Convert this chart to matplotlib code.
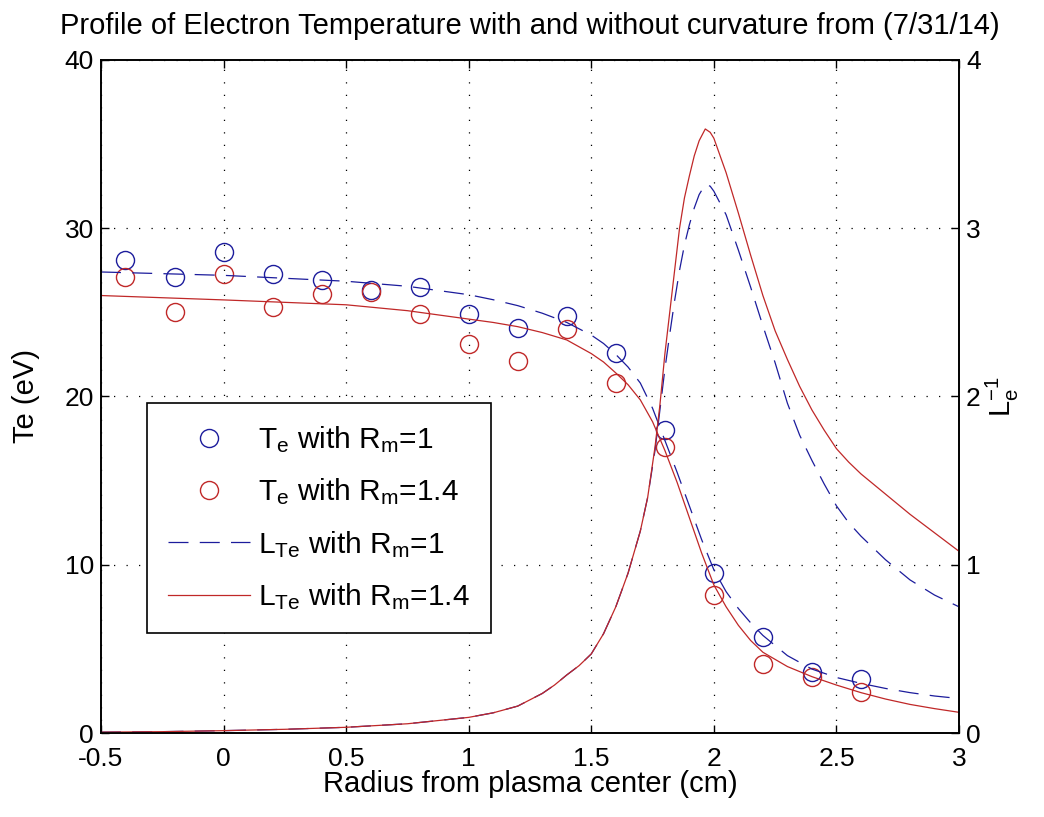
import matplotlib
matplotlib.use("Agg")
import matplotlib.pyplot as plt

plt.rcParams['font.family'] = ['Liberation Sans', 'DejaVu Sans']
plt.rcParams['mathtext.default'] = 'regular'

# measured Te points (eV)
r_pts = [-0.4, -0.2, 0.0, 0.2, 0.4, 0.6, 0.8, 1.0, 1.2, 1.4, 1.6, 1.8, 2.0, 2.2, 2.4, 2.6]
te_rm1 = [28.1, 27.1, 28.6, 27.3, 26.9, 26.3, 26.5, 24.9, 24.1, 24.8, 22.6, 18.0, 9.5, 5.7, 3.6, 3.2]
te_rm14 = [27.1, 25.0, 27.3, 25.3, 26.1, 26.2, 24.9, 23.1, 22.1, 24.0, 20.8, 17.0, 8.2, 4.1, 3.3, 2.45]

# fitted Te profiles (eV)
fit_r = [-0.5, 0.0, 0.5, 0.75, 1.0, 1.1, 1.2, 1.3, 1.4, 1.5, 1.55, 1.6, 1.65, 1.7, 1.75, 1.8,
         1.85, 1.9, 1.95, 2.0, 2.05, 2.1, 2.15, 2.2, 2.3, 2.4, 2.5, 2.6, 2.7, 2.8, 2.9, 3.0]
fit_rm1 = [27.4, 27.2, 26.85, 26.55, 26.05, 25.75, 25.4, 24.95, 24.4, 23.65, 23.15, 22.5, 21.75,
           20.8, 19.3, 17.4, 15.5, 13.5, 11.5, 9.7, 8.4, 7.4, 6.55, 5.8, 4.6, 3.8, 3.3, 2.95,
           2.65, 2.4, 2.2, 2.05]
fit_rm14 = [26.0, 25.74, 25.45, 25.1, 24.6, 24.4, 24.15, 23.8, 23.36, 22.55, 22.05, 21.4, 20.7,
            19.8, 18.5, 16.8, 14.9, 12.8, 10.7, 8.8, 7.5, 6.4, 5.5, 4.8, 3.95, 3.35, 2.85, 2.4,
            2.02, 1.7, 1.45, 1.23]

# inverse gradient scale length L_Te^-1
L_r = [-0.5, -0.25, 0.0, 0.25, 0.5, 0.75, 1.0, 1.1, 1.2, 1.3, 1.35, 1.4, 1.45, 1.5, 1.55, 1.6,
       1.65, 1.7, 1.73, 1.76, 1.78, 1.8, 1.82, 1.84, 1.86, 1.88, 1.9, 1.92, 1.94, 1.965, 1.985,
       2.0, 2.05, 2.1, 2.15, 2.2, 2.25, 2.3, 2.35, 2.4, 2.45, 2.5, 2.55, 2.6, 2.7, 2.8, 2.9, 3.0]
L_rm1 = [0.005, 0.008, 0.014, 0.022, 0.034, 0.055, 0.093, 0.12, 0.16, 0.235, 0.285, 0.345,
         0.40, 0.47, 0.59, 0.75, 0.95, 1.2, 1.4, 1.68, 1.92, 2.16, 2.37, 2.57, 2.75, 2.9, 3.02,
         3.12, 3.2, 3.26, 3.25, 3.22, 3.08, 2.87, 2.65, 2.42, 2.2, 1.96, 1.77, 1.62, 1.48,
         1.35, 1.25, 1.17, 1.03, 0.91, 0.82, 0.75]
L_rm14 = [0.005, 0.008, 0.014, 0.022, 0.034, 0.055, 0.093, 0.12, 0.16, 0.235, 0.285, 0.345,
          0.40, 0.47, 0.59, 0.75, 0.95, 1.2, 1.4, 1.7, 1.95, 2.25, 2.5, 2.75, 3.0, 3.18, 3.31,
          3.43, 3.52, 3.59, 3.57, 3.535, 3.33, 3.09, 2.84, 2.6, 2.39, 2.22, 2.06, 1.92, 1.80,
          1.69, 1.61, 1.54, 1.42, 1.30, 1.19, 1.08]

x_ticks = [-0.5, 0, 0.5, 1, 1.5, 2, 2.5, 3]
x_labels = ['-0.5', '0', '0.5', '1', '1.5', '2', '2.5', '3']
y1_ticks = [0, 10, 20, 30, 40]
y2_ticks = [0, 1, 2, 3, 4]

BLUE = '#1c1c9c'
RED = '#c02828'
TFS = 19
LFS = 21

fig = plt.figure(figsize=(10.44, 8.17), dpi=100)
ax1 = fig.add_axes([0.0967, 0.1028, 0.8219, 0.8238])
ax2 = ax1.twinx()

dash = (0, (16, 9))
h1, = ax1.plot(r_pts, te_rm1, linestyle='none', marker='o', ms=13, mfc='none', mec=BLUE, mew=1.0)
h2, = ax1.plot(r_pts, te_rm14, linestyle='none', marker='o', ms=13, mfc='none', mec=RED, mew=1.0)
ax1.plot(fit_r, fit_rm1, color=BLUE, lw=0.9, linestyle=dash)
ax1.plot(fit_r, fit_rm14, color=RED, lw=0.9)
h3, = ax2.plot(L_r, L_rm1, color=BLUE, lw=0.9, linestyle=dash)
h4, = ax2.plot(L_r, L_rm14, color=RED, lw=0.9)

ax1.set_xlim(-0.5, 3)
ax1.set_ylim(0, 40)
ax2.set_ylim(0, 4)
ax1.set_xticks(x_ticks)
ax1.set_xticklabels(x_labels)
ax1.set_yticks(y1_ticks)
ax2.set_yticks(y2_ticks)

ax1.grid(True, color='black', linestyle=(0, (1, 9)), linewidth=0.9)
ax1.tick_params(axis='both', direction='in', length=6, width=1, labelsize=TFS,
                top=True, right=False)
ax1.tick_params(axis='x', pad=10)
ax1.tick_params(axis='y', pad=5)
ax2.tick_params(direction='in', length=6, width=1, labelsize=TFS, pad=5)
for ax in (ax1, ax2):
    for s in ax.spines.values():
        s.set_linewidth(1.2)

ax1.set_xlabel('Radius from plasma center (cm)', fontsize=LFS, labelpad=-1)
ax1.set_ylabel('Te (eV)', fontsize=LFS, labelpad=18)
ax2.set_ylabel('L$_e^{-1}$', fontsize=LFS, labelpad=2, rotation=90)
ax1.set_title('Profile of Electron Temperature with and without curvature from (7/31/14)',
              fontsize=LFS, pad=19)

leg = ax2.legend([h1, h2, h3, h4],
                 ['T$_e$ with R$_m$=1', 'T$_e$ with R$_m$=1.4',
                  'L$_{Te}$ with R$_m$=1', 'L$_{Te}$ with R$_m$=1.4'],
                 loc='upper left', bbox_to_anchor=(0.054, 0.49), borderaxespad=0,
                 fontsize=21.5, frameon=True, fancybox=False, framealpha=1,
                 edgecolor='black', handlelength=2.75, handletextpad=0.25,
                 borderpad=0.7, labelspacing=0.72)
leg.get_frame().set_linewidth(1.2)

fig.savefig('out.png', dpi=100)
